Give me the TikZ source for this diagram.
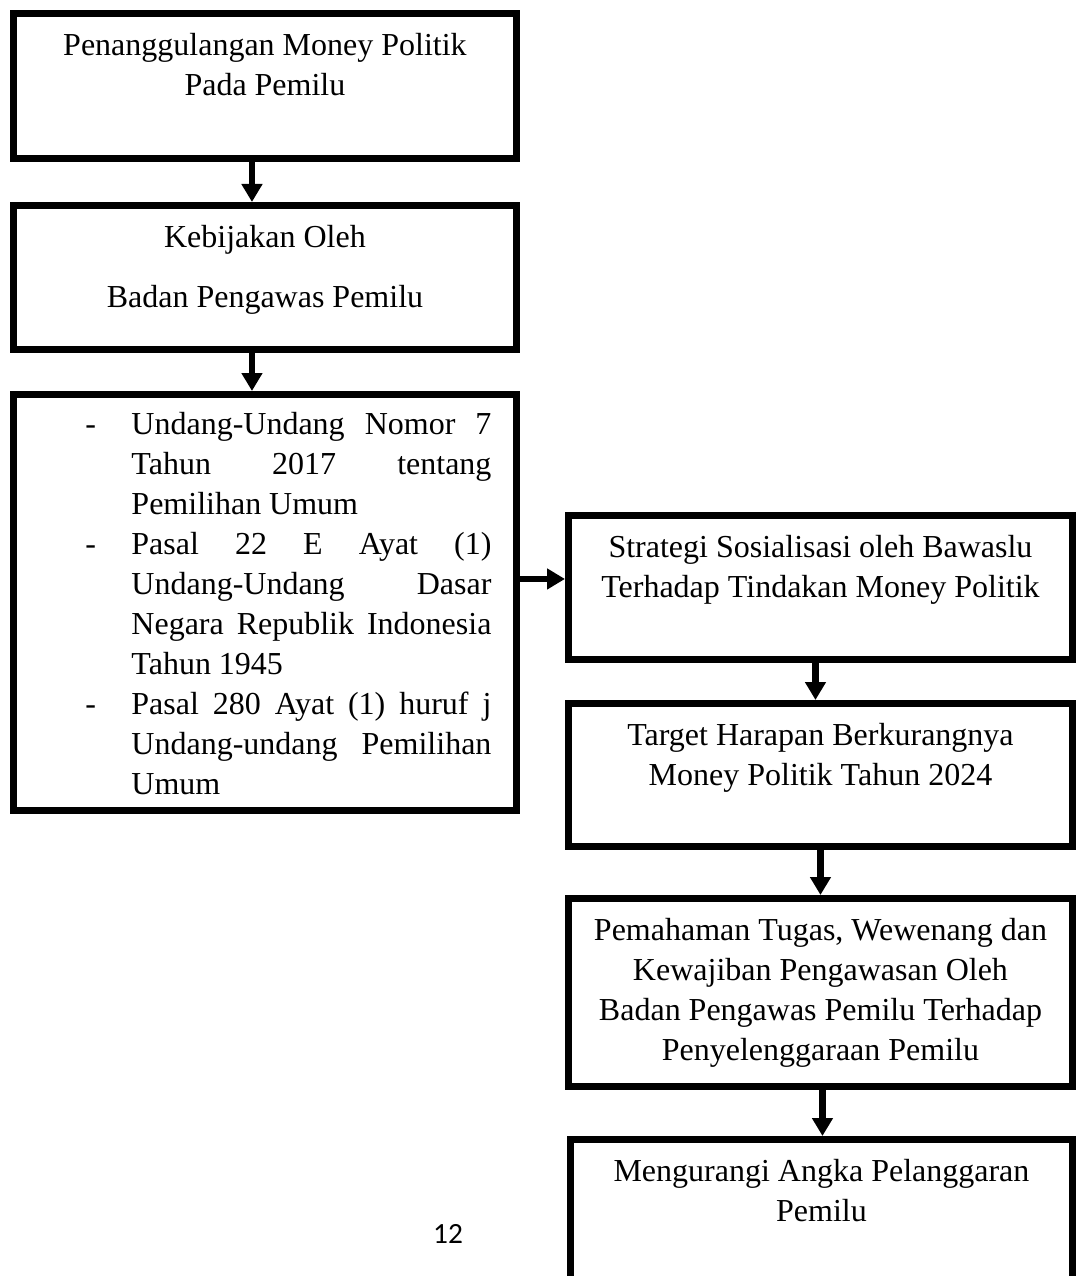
\documentclass[tikz,border=0pt]{standalone}
\usepackage{fontspec}
\setmainfont{Liberation Serif}
\newfontfamily\hurufhal{Carlito}
\usepackage{tikz}
\usetikzlibrary{arrows.meta,positioning,calc}
\newlength\px
\setlength\px{0.375pt}
% isi kotak: lebar, tinggi, teks (rata tengah, mulai dari atas)
\newcommand{\isi}[3]{\parbox[c][#2\px][t]{#1\px}{\centering\vspace*{20\px}#3}}
% baris daftar
\newcommand{\tanda}{\hspace*{72\px}\makebox[46\px][l]{-}}
\newcommand{\sela}{\hspace*{118\px}}
\newcommand{\rata}[1]{\makebox[360\px][s]{#1}}

\begin{document}
\begin{tikzpicture}[x=0.375pt, y=-0.375pt,
  >={Triangle[length=6.75pt,width=7.5pt]},
  kotak/.style={draw, line width=2.6pt, inner sep=0pt, outer sep=1.3pt,
    anchor=north west, font=\fontsize{12}{15}\selectfont},
  panah/.style={->, line width=2.6pt}]

\useasboundingbox (0,0) rectangle (1077,1276);

% ---------- kolom kiri
\node[kotak, minimum width=503\px, minimum height=145\px] (b1) at (10,10)
  {\isi{503}{145}{Penanggulangan Money Politik\\Pada Pemilu}};
\node[kotak, minimum width=503\px, minimum height=144\px] (b2) at (10,202)
  {\isi{503}{144}{Kebijakan Oleh\\[7.5pt]Badan Pengawas Pemilu}};
\node[kotak, minimum width=503\px, minimum height=416\px] (b3) at (10,391)
  {\parbox[c][416\px][t]{503\px}{\raggedright\vspace*{18\px}\noindent
    \tanda\rata{Undang-Undang Nomor 7}\\
    \sela\rata{Tahun 2017 tentang}\\
    \sela Pemilihan Umum\\
    \tanda\rata{Pasal 22 E Ayat (1)}\\
    \sela\rata{Undang-Undang Dasar}\\
    \sela\rata{Negara Republik Indonesia}\\
    \sela Tahun 1945\\
    \tanda\rata{Pasal 280 Ayat (1) huruf j}\\
    \sela\rata{Undang-undang Pemilihan}\\
    \sela Umum}};

% ---------- kolom kanan
\node[kotak, minimum width=504\px, minimum height=144\px] (b4) at (565,512)
  {\isi{504}{144}{Strategi Sosialisasi oleh Bawaslu\\Terhadap Tindakan Money Politik}};
\node[kotak, minimum width=504\px, minimum height=143\px] (b5) at (565,700)
  {\isi{504}{143}{Target Harapan Berkurangnya\\Money Politik Tahun 2024}};
\node[kotak, minimum width=504\px, minimum height=188\px] (b6) at (565,895)
  {\isi{504}{188}{Pemahaman Tugas, Wewenang dan\\Kewajiban Pengawasan Oleh\\Badan Pengawas Pemilu Terhadap\\Penyelenggaraan Pemilu}};
\node[kotak, minimum width=502\px, minimum height=300\px] (b7) at (567,1136)
  {\isi{502}{300}{Mengurangi Angka Pelanggaran\\Pemilu}};

% ---------- nomor halaman
\node[anchor=base, inner sep=0pt, font=\hurufhal\fontsize{11}{13}\selectfont] (hal) at (448,1243) {12};

% ---------- panah
\coordinate (m4) at ([yshift=8.5\px]b4.west);
\coordinate (m6) at ([xshift=2\px]b6.south);
\draw[panah] ([xshift=-13\px]b1.south) -- ([xshift=-13\px]b2.north);
\draw[panah] ([xshift=-13\px]b2.south) -- ([xshift=-13\px]b3.north);
\draw[panah] (b3.east |- m4) -- (m4);
\draw[panah] ([xshift=-5\px]b4.south) -- ([xshift=-5\px]b5.north);
\draw[panah] (b5.south) -- (b6.north);
\draw[panah] (m6) -- (m6 |- b7.north);

\end{tikzpicture}
\end{document}
